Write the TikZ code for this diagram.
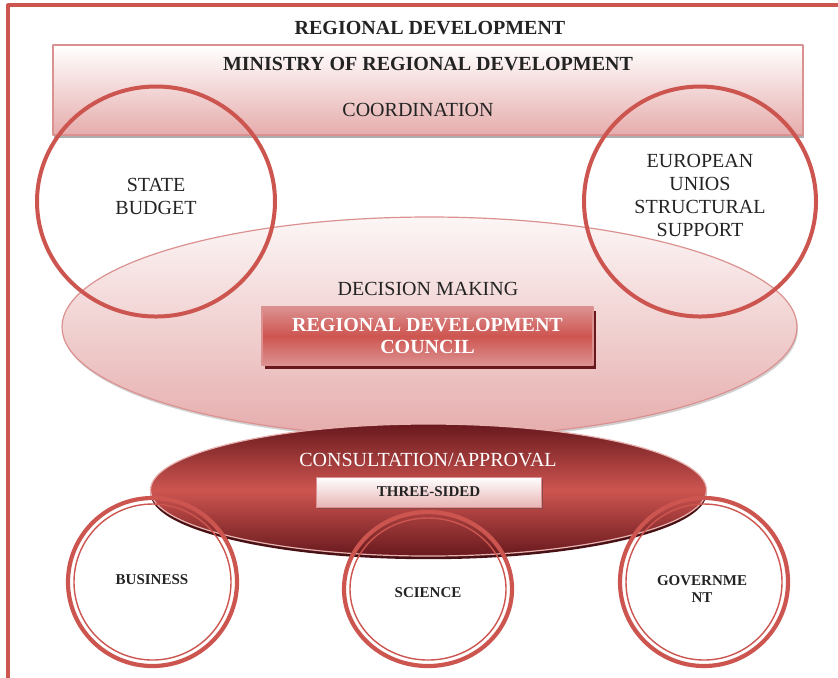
\documentclass[tikz,border=0pt]{standalone}
\usepackage{fontspec}
\setmainfont{Liberation Serif}
\usetikzlibrary{shadows}
\definecolor{framered}{RGB}{205,85,80}
\definecolor{ruby}{RGB}{105,25,30}
\definecolor{rose}{RGB}{230,172,172}
\definecolor{blush}{RGB}{252,246,246}
\definecolor{edgepink}{RGB}{220,145,145}
\definecolor{inkgray}{RGB}{35,35,35}

\begin{document}
\begin{tikzpicture}[x=0.5pt, y=-0.5pt, line join=round,
	font=\fontsize{10}{11.5}\selectfont, text=inkgray,
	ring/.style={framered, line width=2pt},
	outerring/.style={framered, line width=2.1pt},
	innerring/.style={framered, line width=0.7pt},
	tag/.style={font=\bfseries\fontsize{7.5}{8.5}\selectfont, align=center}]
\useasboundingbox (0,0) rectangle (838,677);
%========================
% frame and title
%========================
\draw[framered, line width=1.6pt] (8,690) -- (8,5) -- (850,5);
\node[font=\bfseries\fontsize{10}{11.5}\selectfont] (title) at (430,28) {REGIONAL DEVELOPMENT};

% ministry
\node[draw=edgepink, line width=0.6pt, top color=white, bottom color=rose,
	minimum width=375pt, minimum height=45pt, inner sep=0pt,
	drop shadow={shadow xshift=0.6pt, shadow yshift=-1.4pt, fill=gray!80, opacity=0.8}]
	(ministry) at (428,90) {};
\node[font=\bfseries\fontsize{10}{11.5}\selectfont] (ministrytxt) at (428,64) {MINISTRY OF REGIONAL DEVELOPMENT};
\node (coord) at (418,110) {COORDINATION};

%========================
% decision making
%========================
\shade[top color=blush, middle color=rose!45!white, bottom color=rose, draw=edgepink, line width=0.6pt,
	drop shadow={shadow xshift=0.5pt, shadow yshift=-1.2pt, fill=gray!60, opacity=0.6}]
	(429.5,327) ellipse [x radius=367.5, y radius=110];

% funding circles
\draw[ring] (156,201.5) ellipse [x radius=119, y radius=115];
\draw[ring] (700,201.5) ellipse [x radius=116, y radius=115];
\node[align=center] (budget) at (156,196) {STATE\\BUDGET};
\node[align=center] (euro) at (700,195) {EUROPEAN\\UNIOS\\STRUCTURAL\\SUPPORT};

\node (decision) at (428,289) {DECISION MAKING};
\node[draw=edgepink, line width=0.6pt, top color=edgepink, bottom color=edgepink, middle color=framered,
	minimum width=165.5pt, minimum height=29pt, inner sep=0pt, align=center,
	text=white, font=\bfseries\fontsize{10}{11}\selectfont,
	drop shadow={shadow xshift=1.6pt, shadow yshift=-2pt, fill=ruby, opacity=1}]
	(council) at (427.5,336) {REGIONAL DEVELOPMENT\\COUNCIL};

%========================
% consultation
%========================
\shade[top color=ruby, bottom color=ruby, middle color=framered, draw=framered!45!white, line width=0.6pt,
	drop shadow={shadow xshift=0pt, shadow yshift=-1.6pt, fill=ruby!70!black, opacity=1}]
	(428.5,490) ellipse [x radius=278, y radius=66];
\node[text=white] (consult) at (428,460) {CONSULTATION/APPROVAL};
\node[draw=edgepink, line width=0.5pt, top color=white, bottom color=rose!90,
	minimum width=112.5pt, minimum height=15pt, inner sep=0pt, tag,
	drop shadow={shadow xshift=0.8pt, shadow yshift=-1pt, fill=ruby!80, opacity=0.9}]
	(sided) at (428.5,492) {THREE-SIDED};

% three sides
\draw[outerring] (152.5,582) ellipse [x radius=84.5, y radius=84];
\draw[innerring] (152.5,582) ellipse [x radius=78.5, y radius=78];
\draw[outerring] (428,589) ellipse [x radius=84, y radius=77];
\draw[innerring] (428,589) ellipse [x radius=78, y radius=71];
\draw[outerring] (704,582) ellipse [x radius=84, y radius=84];
\draw[innerring] (704,582) ellipse [x radius=78, y radius=78];
\node[tag] (business) at (152,580) {BUSINESS};
\node[tag] (science) at (428,593) {SCIENCE};
\node[tag] (govern) at (702,589) {GOVERNME\\NT};
\end{tikzpicture}
\end{document}
